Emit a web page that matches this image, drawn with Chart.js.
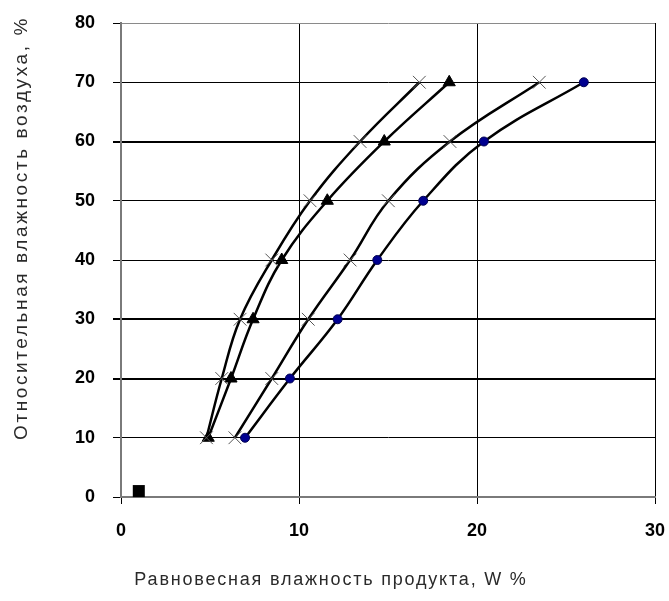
<!DOCTYPE html>
<html>
<head>
<meta charset="utf-8">
<script src="https://cdn.jsdelivr.net/npm/chart.js@4/dist/chart.umd.min.js"></script>
<style>
  html, body { margin: 0; padding: 0; background: #fff; }
  #wrap { width: 669px; height: 601px; position: relative; }
</style>
</head>
<body>
<div id="wrap"><canvas id="c" width="669" height="601"></canvas></div>
<script>
// Relative air humidity, % (y values shared by all curves)
const humidity = [10, 20, 30, 40, 50, 60, 70];

// Equilibrium moisture content of the product, W %
const moistureA = [4.8, 5.66, 6.69, 8.47, 10.62, 13.43, 16.76];   // crosses, left curve
const moistureB = [4.9, 6.18, 7.42, 9.03, 11.59, 14.79, 18.44];   // triangles
const moistureC = [6.4, 8.47, 10.52, 12.87, 15.02, 18.48, 23.5];  // crosses, right curve
const moistureD = [6.97, 9.49, 12.17, 14.4, 16.98, 20.39, 26.0];  // dark blue dots

// Lone square marker near the origin
const originX = [1];
const originY = [1];

// Axis tick values
const xTicks = [0, 10, 20, 30];
const yTicks = [0, 10, 20, 30, 40, 50, 60, 70, 80];

const xTitle = 'Равновесная влажность продукта, W %';
const yTitle = 'Относительная влажность воздуха, %';

function pairs(xs, ys) {
  return xs.map((x, i) => ({ x: x, y: ys[i] }));
}

const curveStyle = {
  showLine: true,
  borderColor: '#000',
  borderWidth: 2.5,
  tension: 0.4,
  clip: false
};

// Axis titles are drawn by hand so they can sit off-centre with wide tracking
const titlePlugin = {
  id: 'axisTitles',
  afterDraw(chart) {
    const ctx = chart.ctx;
    ctx.save();
    ctx.fillStyle = '#2a2a2a';
    ctx.textAlign = 'center';
    ctx.textBaseline = 'middle';
    ctx.font = '18px "Liberation Sans", Arial, sans-serif';
    ctx.letterSpacing = '1.8px';
    ctx.fillText(xTitle, 331, 580);
    ctx.font = '19px "Liberation Sans", Arial, sans-serif';
    ctx.letterSpacing = '2.6px';
    ctx.translate(22, 228);
    ctx.rotate(-Math.PI / 2);
    ctx.fillText(yTitle, 0, 0);
    ctx.restore();
  }
};

const thickRows = [20, 30, 60];

new Chart(document.getElementById('c'), {
  type: 'scatter',
  data: {
    datasets: [
      Object.assign({
        data: pairs(moistureA, humidity),
        pointStyle: 'crossRot',
        pointRadius: 9,
        pointBorderWidth: 1,
        pointBorderColor: '#555',
        pointBackgroundColor: '#555'
      }, curveStyle),
      Object.assign({
        data: pairs(moistureB, humidity),
        pointStyle: 'triangle',
        pointRadius: 7,
        pointBorderWidth: 1,
        pointBorderColor: '#000',
        pointBackgroundColor: '#000'
      }, curveStyle),
      Object.assign({
        data: pairs(moistureC, humidity),
        pointStyle: 'crossRot',
        pointRadius: 9,
        pointBorderWidth: 1,
        pointBorderColor: '#555',
        pointBackgroundColor: '#555'
      }, curveStyle),
      Object.assign({
        data: pairs(moistureD, humidity),
        pointStyle: 'circle',
        pointRadius: 4.5,
        pointBorderWidth: 1,
        pointBorderColor: '#000050',
        pointBackgroundColor: '#000090'
      }, curveStyle),
      {
        data: pairs(originX, originY),
        showLine: false,
        pointStyle: 'rect',
        pointRadius: 8.5,
        pointBorderWidth: 0,
        pointBackgroundColor: '#000',
        clip: false
      }
    ]
  },
  options: {
    responsive: false,
    animation: false,
    events: [],
    layout: { padding: { top: 23, right: 14, left: 0, bottom: 0 } },
    plugins: {
      legend: { display: false },
      tooltip: { enabled: false }
    },
    scales: {
      x: {
        type: 'linear',
        min: xTicks[0],
        max: xTicks[xTicks.length - 1],
        afterFit(scale) {
          scale.height = 104;
          scale.paddingLeft = 0;
          scale.paddingRight = 0;
        },
        afterBuildTicks(scale) { scale.ticks = xTicks.map(v => ({ value: v })); },
        ticks: {
          color: '#000',
          padding: 16,
          font: { family: '"Liberation Sans", Arial, sans-serif', size: 18, weight: 'bold' }
        },
        grid: {
          color: '#000',
          lineWidth: 1,
          tickLength: 7,
          tickColor: '#000'
        },
        border: { display: true, color: '#7a7a7a', width: 2 }
      },
      y: {
        type: 'linear',
        min: yTicks[0],
        max: yTicks[yTicks.length - 1],
        afterFit(scale) {
          scale.width = 121;
          scale.paddingTop = 0;
          scale.paddingBottom = 0;
        },
        afterBuildTicks(scale) { scale.ticks = yTicks.map(v => ({ value: v })); },
        ticks: {
          color: '#000',
          padding: 18,
          font: { family: '"Liberation Sans", Arial, sans-serif', size: 18, weight: 'bold' }
        },
        grid: {
          color: ctx => (ctx.tick && ctx.tick.value === 80 ? '#8a8a8a' : '#000'),
          lineWidth: ctx => (ctx.tick && thickRows.includes(ctx.tick.value) ? 2 : 1),
          tickLength: 8,
          tickColor: '#000'
        },
        border: { display: true, color: '#7a7a7a', width: 2 }
      }
    }
  },
  plugins: [titlePlugin]
});
</script>
</body>
</html>
